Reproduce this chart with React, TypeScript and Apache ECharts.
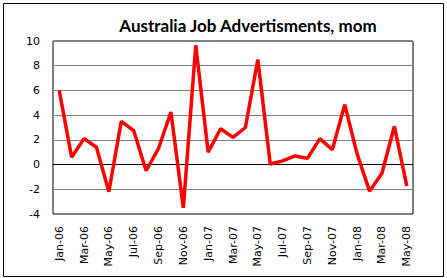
import React, { useEffect, useRef } from "react";
import * as echarts from "echarts";

const months = [
  "Jan-06", "Feb-06", "Mar-06", "Apr-06", "May-06", "Jun-06", "Jul-06", "Aug-06", "Sep-06", "Oct-06", "Nov-06", "Dec-06",
  "Jan-07", "Feb-07", "Mar-07", "Apr-07", "May-07", "Jun-07", "Jul-07", "Aug-07", "Sep-07", "Oct-07", "Nov-07", "Dec-07",
  "Jan-08", "Feb-08", "Mar-08", "Apr-08", "May-08",
];
const values = [
  6.0, 0.6, 2.1, 1.4, -2.2, 3.5, 2.75, -0.5, 1.3, 4.25, -3.5, 9.65,
  1.0, 2.9, 2.2, 3.0, 8.5, 0.05, 0.3, 0.7, 0.5, 2.1, 1.2, 4.85,
  0.85, -2.15, -0.7, 3.1, -1.75,
];
const title = "Australia Job Advertisments, mom";

export default function App() {
  const ref = useRef<HTMLDivElement>(null);
  useEffect(() => {
    document.body.style.margin = "0";
    const chart = echarts.init(ref.current!, null, { renderer: "svg" });
    chart.setOption({
      animation: false,
      backgroundColor: "#ffffff",
      title: {
        text: title,
        left: 243,
        textAlign: "center",
        top: 12,
        textStyle: { fontFamily: "Lato", fontWeight: "bold", fontSize: 17, color: "#000" },
      },
      graphic: [
        {
          type: "rect",
          shape: { x: 3.5, y: 3.5, width: 440, height: 273 },
          style: { fill: "none", stroke: "#000", lineWidth: 1 },
          silent: true,
        },
      ],
      grid: {
        left: 53,
        right: 34,
        top: 41,
        bottom: 64,
        show: true,
        borderColor: "#000",
        borderWidth: 1,
        backgroundColor: "transparent",
      },
      xAxis: {
        type: "category",
        data: months,
        boundaryGap: true,
        axisLine: { show: false },
        axisTick: { show: false },
        axisLabel: {
          interval: 1,
          rotate: 90,
          margin: 12,
          fontFamily: "DejaVu Sans",
          fontSize: 11,
          color: "#000",
        },
      },
      yAxis: {
        type: "value",
        min: -4,
        max: 10,
        interval: 2,
        axisLine: { show: false },
        axisTick: { show: false },
        axisLabel: { margin: 13, fontFamily: "DejaVu Sans", fontSize: 11, color: "#000" },
        splitLine: { show: true, lineStyle: { color: "#808080", width: 1 } },
      },
      series: [
        {
          type: "line",
          data: values,
          symbol: "none",
          lineStyle: { color: "#ff0000", width: 3.5 },
          markLine: {
            silent: true,
            symbol: "none",
            label: { show: false },
            lineStyle: { color: "#000", type: "solid", width: 1 },
            data: [{ yAxis: 0 }],
            z: 1,
          },
          z: 3,
        },
      ],
    });
    return () => chart.dispose();
  }, []);
  return <div ref={ref} style={{ width: 447, height: 278 }} />;
}
